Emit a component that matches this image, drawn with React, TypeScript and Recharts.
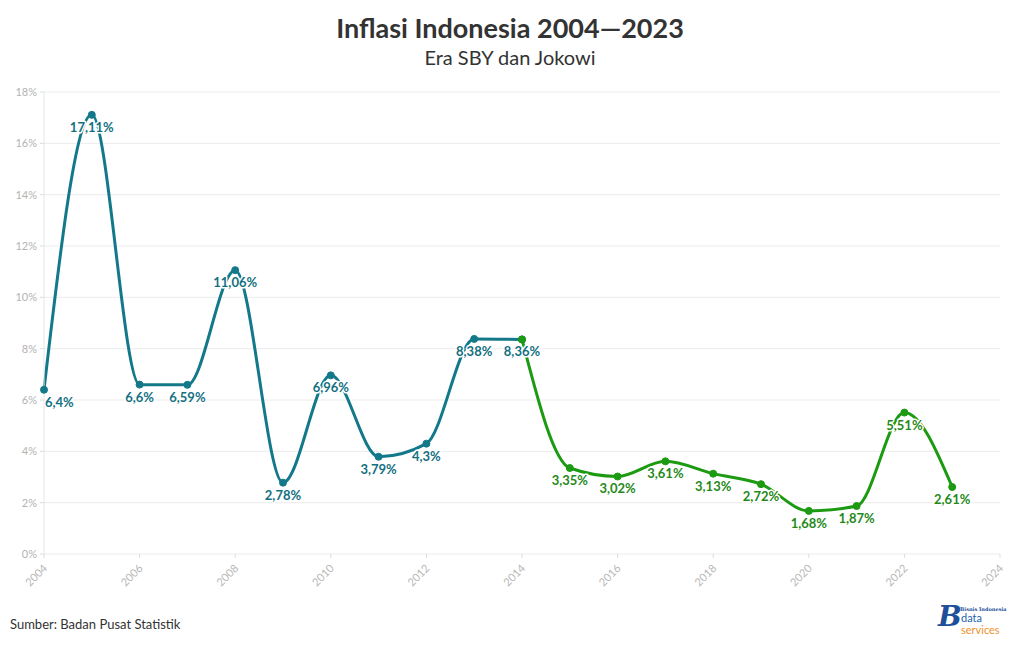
import React from "react";
import { LineChart, Line, XAxis, YAxis, CartesianGrid, LabelList } from "recharts";

const sbyYears = [2004, 2005, 2006, 2007, 2008, 2009, 2010, 2011, 2012, 2013, 2014];
const sbyValues = [6.4, 17.11, 6.6, 6.59, 11.06, 2.78, 6.96, 3.79, 4.3, 8.38, 8.36];
const jokowiYears = [2014, 2015, 2016, 2017, 2018, 2019, 2020, 2021, 2022, 2023];
const jokowiValues = [8.36, 3.35, 3.02, 3.61, 3.13, 2.72, 1.68, 1.87, 5.51, 2.61];
const xTicks = [2004, 2006, 2008, 2010, 2012, 2014, 2016, 2018, 2020, 2022, 2024];
const yTicks = [0, 2, 4, 6, 8, 10, 12, 14, 16, 18];

const sbyData = sbyYears.map((year, i) => ({ year, value: sbyValues[i] }));
const jokowiData = jokowiYears.map((year, i) => ({ year, value: jokowiValues[i] }));

const TEAL = "#13798a";
const TEAL_LABEL = "#13707f";
const GREEN = "#1c9a12";
const GREEN_LABEL = "#25891a";
const FONT = "Lato, 'Noto Sans', sans-serif";

const fmt = (v: number) => String(v).replace(".", ",") + "%";

const makeLabel = (color: string, skipIndex: number | null) => (props: any) => {
  const { x, y, value, index } = props;
  if (skipIndex !== null && index === skipIndex) return null;
  const first = color === TEAL_LABEL && index === 0;
  return (
    <text
      x={first ? x + 1 : x}
      y={y + 17}
      textAnchor={first ? "start" : "middle"}
      fontFamily={FONT}
      fontWeight={700}
      fontSize={13}
      fill={color}
      stroke="#ffffff"
      strokeWidth={3}
      paintOrder="stroke"
      strokeLinejoin="round"
    >
      {fmt(value)}
    </text>
  );
};

const XTick = (props: any) => {
  const { x, y, payload } = props;
  return (
    <text
      x={x + 4}
      y={y + 9}
      transform={`rotate(-45 ${x + 4} ${y + 9})`}
      textAnchor="end"
      fontFamily={FONT}
      fontSize={11}
      fill="#b8b8b8"
    >
      {payload.value}
    </text>
  );
};

const YTick = (props: any) => {
  const { x, y, payload } = props;
  return (
    <text x={x - 1} y={y + 4} textAnchor="end" fontFamily={FONT} fontSize={11} fill="#b3b3b3">
      {payload.value}%
    </text>
  );
};

export default function App() {
  return (
    <div
      style={{
        position: "absolute",
        left: 0,
        top: 0,
        width: 1020,
        height: 650,
        background: "#fff",
        fontFamily: FONT,
      }}
    >
      <div
        style={{
          position: "absolute",
          top: 11,
          left: 0,
          width: 1020,
          textAlign: "center",
          fontSize: 27,
          fontWeight: 700,
          color: "#333",
        }}
      >
        Inflasi Indonesia 2004—2023
      </div>
      <div
        style={{
          position: "absolute",
          top: 45,
          left: 0,
          width: 1020,
          textAlign: "center",
          fontSize: 20,
          color: "#333",
        }}
      >
        Era SBY dan Jokowi
      </div>
      <div style={{ position: "absolute", left: 0, top: 0 }}>
        <LineChart width={1020} height={650} margin={{ top: 92, right: 20, left: 4, bottom: 66 }}>
          <CartesianGrid horizontal vertical={false} stroke="#ececec" />
          <XAxis
            dataKey="year"
            type="number"
            domain={[2004, 2024]}
            ticks={xTicks}
            allowDuplicatedCategory={false}
            axisLine={false}
            tickLine={{ stroke: "#dddddd" }}
            tickSize={4}
            height={30}
            tick={<XTick />}
            interval={0}
          />
          <YAxis
            dataKey="value"
            type="number"
            width={40}
            domain={[0, 18]}
            ticks={yTicks}
            axisLine={{ stroke: "#e6e6e6" }}
            tickLine={{ stroke: "#dddddd" }}
            tickSize={4}
            tick={<YTick />}
            interval={0}
          />
          <Line
            data={sbyData}
            dataKey="value"
            type="monotone"
            stroke={TEAL}
            strokeWidth={3}
            dot={{ r: 3.5, fill: TEAL, stroke: TEAL, strokeWidth: 1 }}
            isAnimationActive={false}
          >
            <LabelList dataKey="value" content={makeLabel(TEAL_LABEL, null)} />
          </Line>
          <Line
            data={jokowiData}
            dataKey="value"
            type="monotone"
            stroke={GREEN}
            strokeWidth={3}
            dot={{ r: 3.5, fill: GREEN, stroke: GREEN, strokeWidth: 1 }}
            isAnimationActive={false}
          >
            <LabelList dataKey="value" content={makeLabel(GREEN_LABEL, 0)} />
          </Line>
        </LineChart>
      </div>
      <div
        style={{
          position: "absolute",
          left: 10,
          top: 616,
          fontSize: 13,
          color: "#333",
        }}
      >
        Sumber: Badan Pusat Statistik
      </div>
      <div style={{ position: "absolute", left: 938, top: 604, width: 80, height: 34 }}>
        <span
          style={{
            position: "absolute",
            left: 0,
            top: -3,
            fontFamily: "'DejaVu Serif', serif",
            fontWeight: 700,
            fontStyle: "italic",
            fontSize: 28,
            lineHeight: "32px",
            color: "#1e4f9a",
          }}
        >
          B
        </span>
        <span
          style={{
            position: "absolute",
            left: 22,
            top: 2,
            fontFamily: "'DejaVu Serif', serif",
            fontWeight: 700,
            fontSize: 5,
            lineHeight: "6px",
            color: "#1e4f9a",
            whiteSpace: "nowrap",
          }}
        >
          Bisnis Indonesia
        </span>
        <span style={{ position: "absolute", left: 23, top: 8, fontSize: 11, lineHeight: "11px", color: "#1e5fb0" }}>
          data
        </span>
        <span style={{ position: "absolute", left: 23, top: 20, fontSize: 11, lineHeight: "11px", color: "#f0902a" }}>
          services
        </span>
      </div>
    </div>
  );
}
